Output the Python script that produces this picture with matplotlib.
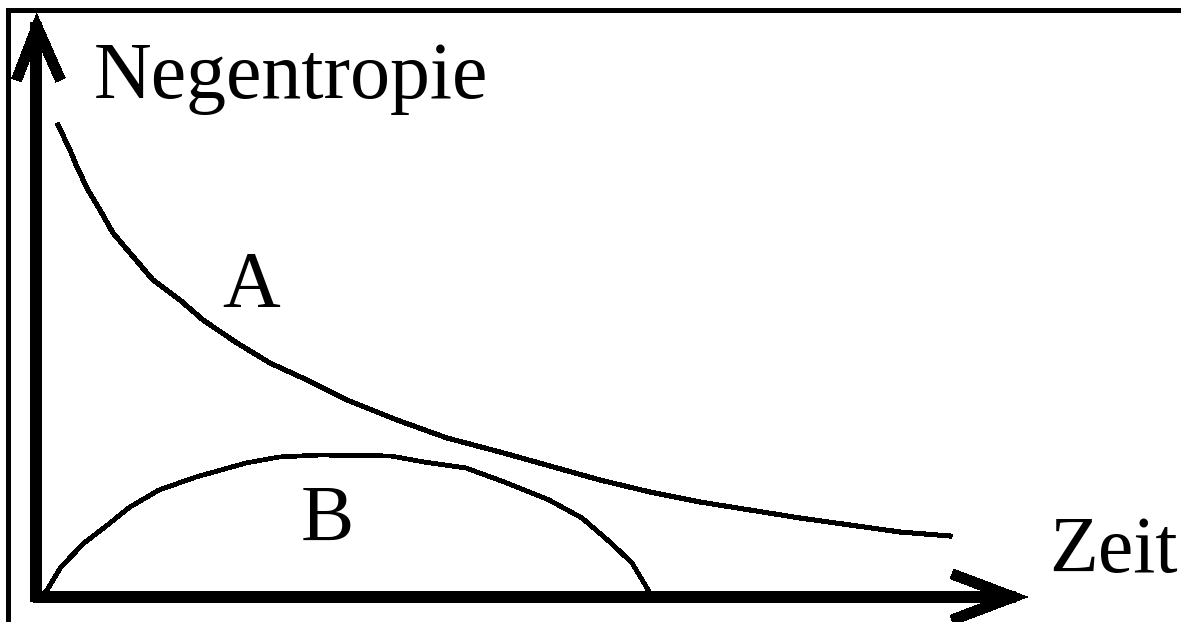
import matplotlib
matplotlib.use("Agg")
import matplotlib.pyplot as plt

# Kurve A: Negentropie nimmt mit der Zeit ab
a_zeit = [0.22, 0.34, 0.41, 0.52, 0.64, 0.77, 0.94, 1.17, 1.44, 1.67, 2.01, 2.34,
          2.71, 3.11, 3.61, 4.11, 4.64, 5.14, 5.64, 6.14, 6.64, 7.14, 7.64, 8.14,
          8.64, 9.14]
a_wert = [4.72, 4.47, 4.30, 4.07, 3.87, 3.64, 3.44, 3.17, 2.97, 2.77, 2.54, 2.34,
          2.17, 1.97, 1.77, 1.59, 1.45, 1.31, 1.17, 1.05, 0.95, 0.87, 0.79, 0.72,
          0.65, 0.61]

# Kurve B: steigt an und faellt wieder
b_zeit = [0.08, 0.11, 0.25, 0.48, 0.69, 0.94, 1.23, 1.60, 2.10, 2.43, 2.84, 3.55,
          3.88, 4.30, 4.71, 5.13, 5.46, 5.75, 5.96, 6.11, 6.14]
b_wert = [0.03, 0.07, 0.30, 0.54, 0.70, 0.90, 1.07, 1.20, 1.34, 1.40, 1.42, 1.41,
          1.35, 1.29, 1.14, 0.97, 0.79, 0.54, 0.34, 0.09, 0.03]

labels = ["A", "B"]
label_pos = [(1.86, 2.90), (2.65, 0.56)]

fig = plt.figure(figsize=(11.81, 6.22), dpi=100)
ax = fig.add_axes([0, 0, 1, 1])
ax.set_xlim(-0.36, 11.45)
ax.set_ylim(-0.25, 5.97)
ax.axis("off")

font = dict(family="Liberation Serif", fontsize=57.5, color="black")

# Rahmen oben und links
ax.plot([-0.28, 11.45], [5.87, 5.87], color="black", lw=2.2, antialiased=False)
ax.plot([-0.28, -0.28], [5.87, -0.25], color="black", lw=2.2, antialiased=False)

# Achsen mit Pfeilspitzen
ax.plot([0, 0], [-0.05, 5.75], color="black", lw=8.5, solid_capstyle="butt", antialiased=False)
ax.plot([-0.03, 9.8], [0, 0], color="black", lw=7.5, solid_capstyle="butt", antialiased=False)
ax.plot([-0.195, 0.01, 0.245], [5.17, 5.70, 5.17], color="black", lw=7.2,
        solid_joinstyle="miter", solid_capstyle="butt", antialiased=False)
ax.plot([9.16, 9.77, 9.16], [0.23, 0.0, -0.23], color="black", lw=7.2,
        solid_joinstyle="miter", solid_capstyle="butt", antialiased=False)

# Kurven
ax.plot(a_zeit, a_wert, color="black", lw=2.9, antialiased=False)
ax.plot(b_zeit, b_wert, color="black", lw=2.7, antialiased=False)

for lab, (x, y) in zip(labels, label_pos):
    ax.text(x, y, lab, ha="left", va="baseline", **font)

ax.text(0.58, 4.99, "Negentropie", ha="left", va="baseline", **font)
ax.text(10.13, 0.25, "Zeit", ha="left", va="baseline", **font)

fig.savefig("out.png", dpi=100)
